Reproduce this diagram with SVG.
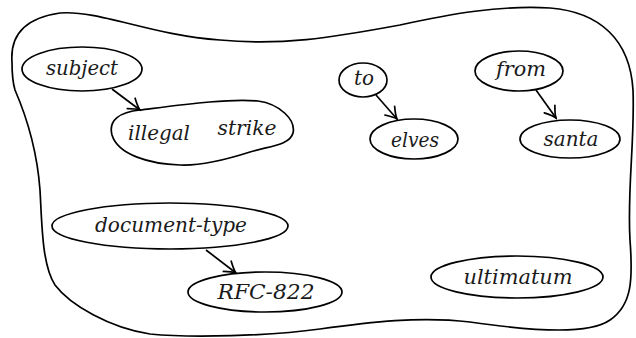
<svg xmlns="http://www.w3.org/2000/svg" width="636" height="338" viewBox="0 0 636 338">
  <style>
    .shape { fill: none; stroke: #000; stroke-width: 1.7; }
    .edge { fill: none; stroke: #000; stroke-width: 1.7; marker-end: url(#tip); }
    .label { font-family: 'DejaVu Serif', serif; font-style: italic; font-size: 20px; fill: #1a1a1a; text-anchor: middle; }
  </style>
  <defs>
    <!-- open, curved-barb arrow tip -->
    <marker id="tip" viewBox="-13 -8 15 16" refX="0" refY="0" markerWidth="15" markerHeight="16" markerUnits="userSpaceOnUse" orient="auto">
      <path d="M-11,-6.5 Q-4,-1.3 0,0 Q-4,1.3 -11,6.5" fill="none" stroke="#000" stroke-width="1.7" stroke-linecap="round"/>
    </marker>
  </defs>

  <!-- enclosing region -->
  <g id="region">
    <path class="shape" d="M12,62 C10,35 25,18 60,13 C100,10 150,35 220,40 C280,46 330,38 400,25 C450,14 500,5 550,8 C600,12 630,40 633,90 C635,140 627,190 630,240 C633,280 632,305 610,320 C590,334 540,332 470,322 C420,316 370,322 320,329 C270,336 190,338 150,334 C110,328 70,305 55,285 C42,265 42,225 40,190 C37,150 28,120 15,90 C12,80 12,70 12,62 Z"/>
  </g>

  <g id="subject">
    <ellipse class="shape" cx="82" cy="69" rx="60" ry="22"/>
    <text class="label" x="82" y="75" textLength="72" lengthAdjust="spacingAndGlyphs">subject</text>
  </g>

  <g id="illegal-strike">
    <path class="shape" d="M140,110 C180,105 230,98 258,101 C280,104 296,120 293,133 C290,145 270,146 250,152 C225,160 200,166 180,165 C150,164 118,155 112,135 C108,120 120,112 140,110 Z"/>
    <text class="label" x="159" y="140" textLength="62" lengthAdjust="spacingAndGlyphs">illegal</text>
    <text class="label" x="247" y="135" textLength="59" lengthAdjust="spacingAndGlyphs">strike</text>
  </g>

  <g id="to">
    <ellipse class="shape" cx="363" cy="80" rx="24" ry="17"/>
    <text class="label" x="364" y="85" textLength="20" lengthAdjust="spacingAndGlyphs">to</text>
  </g>

  <g id="elves">
    <ellipse class="shape" cx="414" cy="139" rx="44" ry="20"/>
    <text class="label" x="415" y="147" textLength="48" lengthAdjust="spacingAndGlyphs">elves</text>
  </g>

  <g id="from">
    <ellipse class="shape" cx="519" cy="71" rx="44" ry="20"/>
    <text class="label" x="521" y="76" textLength="50" lengthAdjust="spacingAndGlyphs">from</text>
  </g>

  <g id="santa">
    <ellipse class="shape" cx="570" cy="139" rx="50" ry="19"/>
    <text class="label" x="571" y="146" textLength="55" lengthAdjust="spacingAndGlyphs">santa</text>
  </g>

  <g id="document-type">
    <ellipse class="shape" cx="170" cy="226" rx="118" ry="23"/>
    <text class="label" x="171" y="232" textLength="152" lengthAdjust="spacingAndGlyphs">document-type</text>
  </g>

  <g id="RFC-822">
    <ellipse class="shape" cx="265" cy="292" rx="77" ry="20"/>
    <text class="label" x="266" y="299" textLength="97" lengthAdjust="spacingAndGlyphs">RFC-822</text>
  </g>

  <g id="ultimatum">
    <ellipse class="shape" cx="517" cy="277" rx="86" ry="21"/>
    <text class="label" x="518" y="284" textLength="109" lengthAdjust="spacingAndGlyphs">ultimatum</text>
  </g>

  <g id="connectors">
    <line class="edge" x1="112" y1="89" x2="140" y2="110"/>
    <line class="edge" x1="376" y1="95" x2="397" y2="119"/>
    <line class="edge" x1="536" y1="90" x2="556" y2="118"/>
    <line class="edge" x1="206" y1="250" x2="236" y2="273"/>
  </g>
</svg>
